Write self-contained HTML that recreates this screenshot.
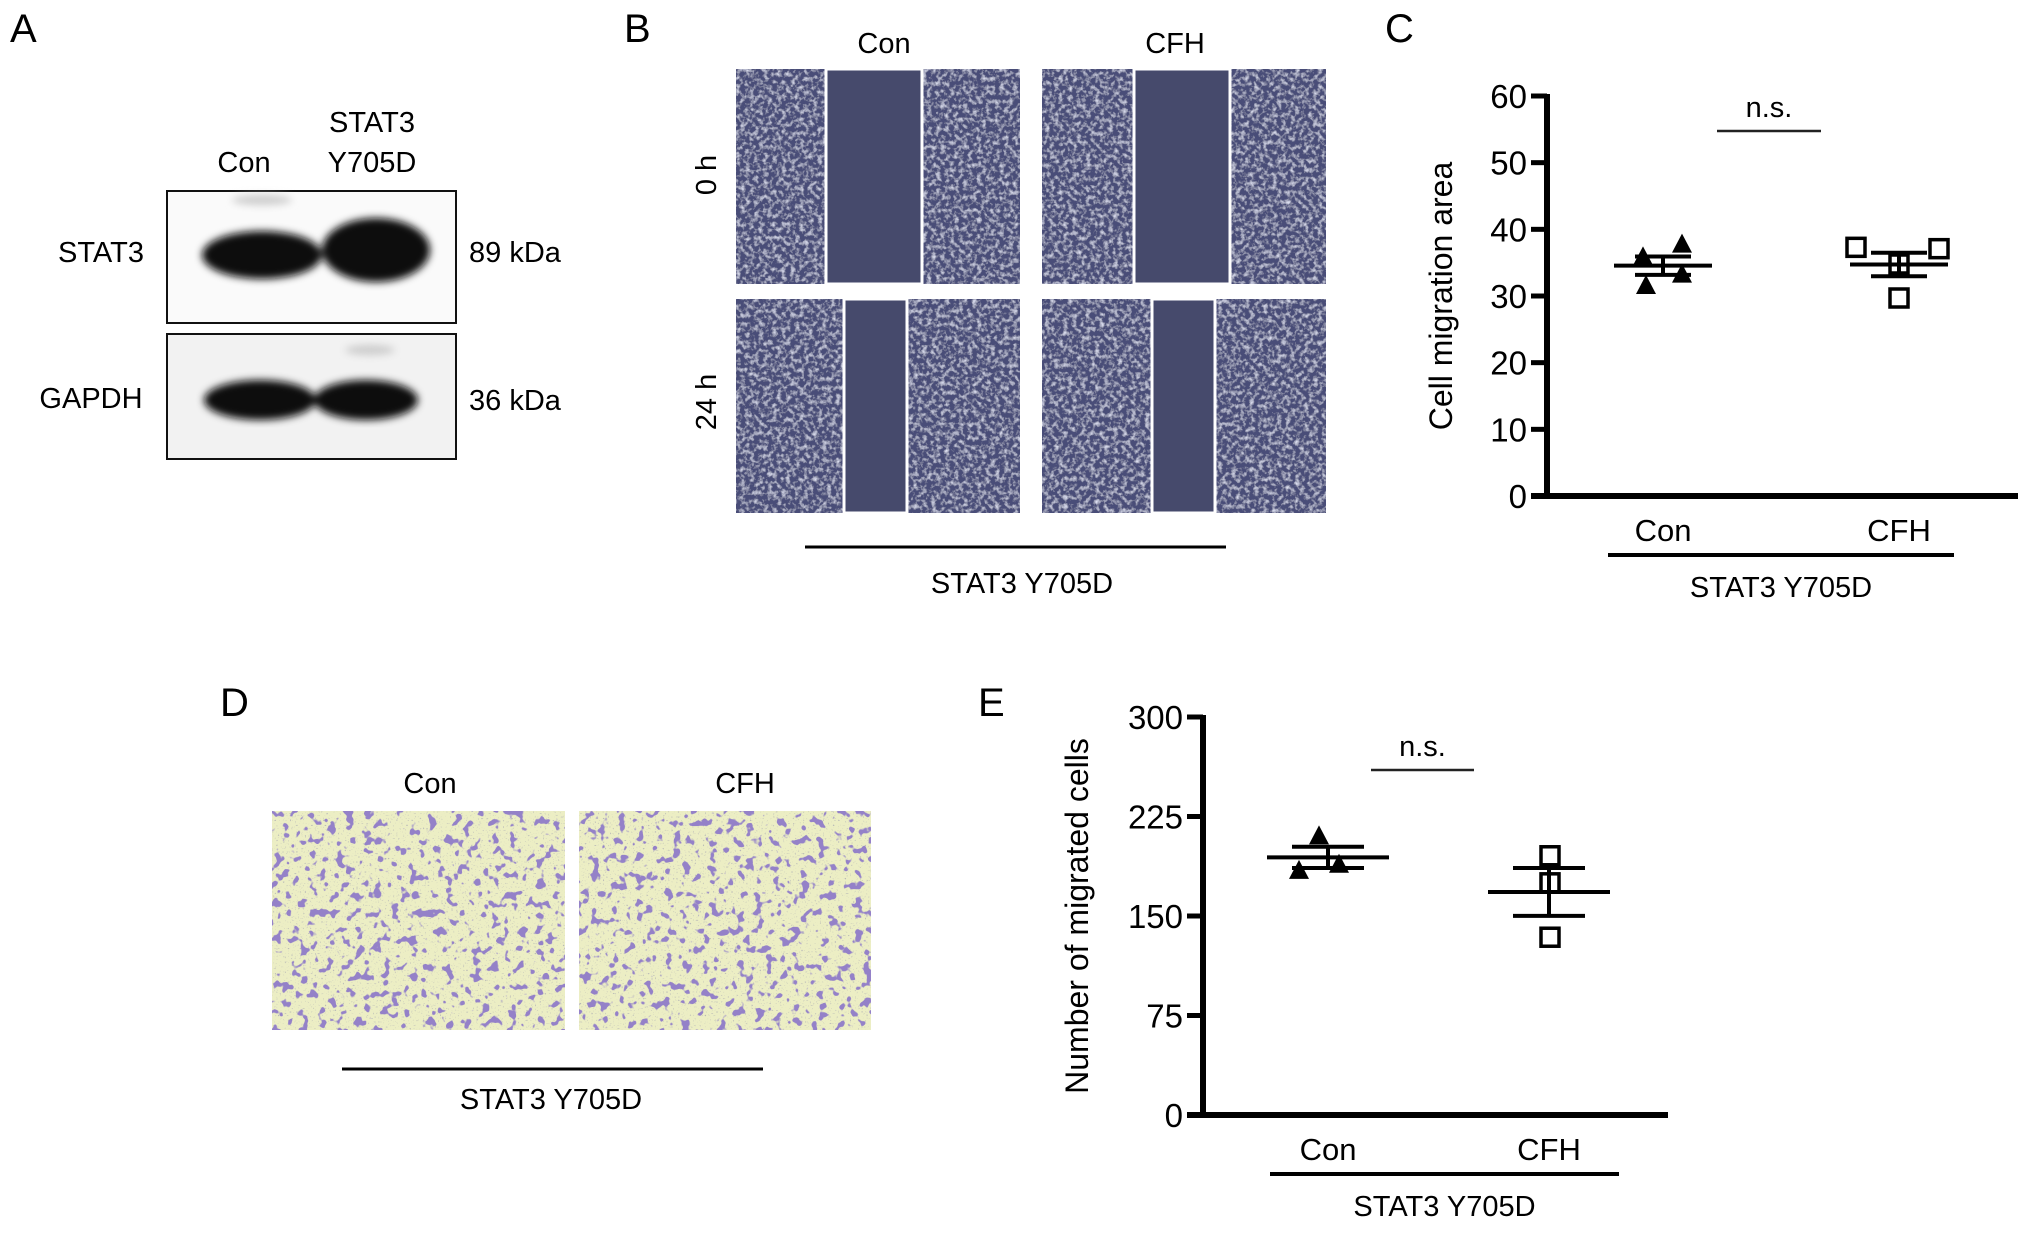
<!DOCTYPE html>
<html><head><meta charset="utf-8"><style>
html,body{margin:0;padding:0;background:#fff;}
svg{display:block;font-family:"Liberation Sans",Arial,sans-serif;}
</style></head><body>
<svg id="fig" width="2032" height="1241" viewBox="0 0 2032 1241">
<defs>
<filter id="speck" x="0" y="0" width="100%" height="100%">
  <feTurbulence type="fractalNoise" baseFrequency="0.22" numOctaves="3" seed="3" result="n"/>
  <feColorMatrix in="n" type="matrix" values="0 0 0 0 0.72  0 0 0 0 0.74  0 0 0 0 0.88  0 0 0 2.2 -1.0" result="s"/>
  <feComposite in="s" in2="SourceGraphic" operator="atop"/>
</filter>
<filter id="cells" x="0" y="0" width="100%" height="100%">
  <feTurbulence type="fractalNoise" baseFrequency="0.11" numOctaves="2" seed="7" result="n"/>
  <feColorMatrix in="n" type="matrix" values="0 0 0 0 0.3  0 0 0 0 0.22  0 0 0 0 0.58  0 0 0 16 -9.4" result="s"/>
  <feTurbulence type="fractalNoise" baseFrequency="0.6" numOctaves="1" seed="2" result="n2"/>
  <feColorMatrix in="n2" type="matrix" values="0 0 0 0 0.4  0 0 0 0 0.4  0 0 0 0 0.45  0 0 0 5 -3.1" result="s2"/>
  <feMerge><feMergeNode in="SourceGraphic"/><feMergeNode in="s2"/><feMergeNode in="s"/></feMerge>
</filter>
<filter id="blur4"><feGaussianBlur stdDeviation="4"/></filter>
</defs>

<!-- Panel A -->
<g>
<text x="10" y="42" font-size="40">A</text>
<text x="244" y="172" font-size="29" text-anchor="middle">Con</text>
<text x="372" y="132" font-size="29" text-anchor="middle">STAT3</text>
<text x="372" y="172" font-size="29" text-anchor="middle">Y705D</text>
<rect x="167" y="191" width="289" height="132" fill="#fafafa" stroke="#111" stroke-width="2"/>
<g filter="url(#blur4)">
<ellipse cx="262" cy="255" rx="60" ry="24" fill="#0a0a0a"/>
<ellipse cx="376" cy="250" rx="54" ry="32" fill="#0a0a0a"/>
<ellipse cx="262" cy="200" rx="30" ry="5" fill="#ccc"/>
</g>
<rect x="167" y="334" width="289" height="125" fill="#f2f2f2" stroke="#111" stroke-width="2"/>
<g filter="url(#blur4)">
<ellipse cx="260" cy="400" rx="56" ry="20" fill="#111"/>
<ellipse cx="366" cy="400" rx="52" ry="20" fill="#111"/>
<ellipse cx="370" cy="350" rx="25" ry="5" fill="#ccc"/>
</g>
<text x="101" y="262" font-size="29" text-anchor="middle">STAT3</text>
<text x="91" y="408" font-size="29" text-anchor="middle">GAPDH</text>
<text x="469" y="262" font-size="29">89 kDa</text>
<text x="469" y="410" font-size="29">36 kDa</text>
</g>

<!-- Panel B -->
<g>
<text x="624" y="42" font-size="40">B</text>
<text x="884" y="53" font-size="29" text-anchor="middle">Con</text>
<text x="1175" y="53" font-size="29" text-anchor="middle">CFH</text>
<text transform="translate(716,175) rotate(-90)" font-size="29" text-anchor="middle">0 h</text>
<text transform="translate(716,402) rotate(-90)" font-size="29" text-anchor="middle">24 h</text>
<g>
<rect x="736" y="69" width="284" height="215" fill="#4a4e78" filter="url(#speck)"/>
<rect x="1042" y="69" width="284" height="215" fill="#4a4e78" filter="url(#speck)"/>
<rect x="736" y="299" width="284" height="214" fill="#4a4e78" filter="url(#speck)"/>
<rect x="1042" y="299" width="284" height="214" fill="#4a4e78" filter="url(#speck)"/>
<rect x="826" y="69" width="96" height="215" fill="#464a6c" stroke="#fff" stroke-width="3"/>
<rect x="1134" y="69" width="96" height="215" fill="#464a6c" stroke="#fff" stroke-width="3"/>
<rect x="844" y="299" width="63" height="214" fill="#464a6c" stroke="#fff" stroke-width="3"/>
<rect x="1152" y="299" width="63" height="214" fill="#464a6c" stroke="#fff" stroke-width="3"/>
</g>
<line x1="805" y1="547" x2="1226" y2="547" stroke="#000" stroke-width="3"/>
<text x="1022" y="593" font-size="29" text-anchor="middle">STAT3 Y705D</text>
</g>

<!-- Panel D -->
<g>
<text x="220" y="716" font-size="40">D</text>
<text x="430" y="793" font-size="29" text-anchor="middle">Con</text>
<text x="745" y="793" font-size="29" text-anchor="middle">CFH</text>
<rect x="272" y="811" width="293" height="219" fill="#eceec4" filter="url(#cells)"/>
<rect x="579" y="811" width="292" height="219" fill="#eceec4" filter="url(#cells)"/>
<line x1="342" y1="1069" x2="763" y2="1069" stroke="#000" stroke-width="3"/>
<text x="551" y="1109" font-size="29" text-anchor="middle">STAT3 Y705D</text>
</g>

<text x="1385" y="42" font-size="40">C</text>
<text x="978" y="716" font-size="40">E</text>
<g id="chartC"></g>
<g id="chartE"></g>
</svg>
<script>
const NS='http://www.w3.org/2000/svg';
const cCategories=['Con','CFH'];
const cConValues=[35.8,37.7,31.5,33.2];
const cCfhValues=[37.3,37.1,34.8,29.7];
const cTicks=[0,10,20,30,40,50,60];
const eCategories=['Con','CFH'];
const eConValues=[210,184,188.6];
const eCfhValues=[195.4,175,134];
const eTicks=[0,75,150,225,300];

function mk(parent,tag,attrs,text){const e=document.createElementNS(NS,tag);for(const k in attrs)e.setAttribute(k,attrs[k]);if(text!==undefined)e.textContent=text;parent.appendChild(e);return e;}
function mean(a){return a.reduce((s,v)=>s+v,0)/a.length;}
function sem(a){const m=mean(a);const sd=Math.sqrt(a.reduce((s,v)=>s+(v-m)*(v-m),0)/(a.length-1));return sd/Math.sqrt(a.length);}

function drawChart(g,cfg){
  const y=v=>cfg.y0-(v-cfg.min)/(cfg.max-cfg.min)*(cfg.y0-cfg.yTop);
  const x=i=>cfg.xc[i];
  const ya=mk(g,'line',{x1:cfg.ax,y1:cfg.yTop-2,x2:cfg.ax,y2:cfg.y0+3,stroke:'#000','stroke-width':6});
  
  
  const xa=mk(g,'line',{x1:cfg.ax-16,y1:cfg.y0,x2:cfg.xEnd,y2:cfg.y0,stroke:'#000','stroke-width':6});
  
  
  cfg.ticks.forEach(t=>{
    const tl=mk(g,'line',{x1:cfg.ax-16,y1:y(t),x2:cfg.ax,y2:y(t),stroke:'#000','stroke-width':5});
    
    
    const tt=mk(g,'text',{x:cfg.ax-20,y:y(t)+12,'font-size':33,'text-anchor':'end'},String(t));
    
    
  });
  const yt=mk(g,'text',{transform:`translate(${cfg.titleX},${(cfg.yTop+cfg.y0)/2}) rotate(-90)`,'font-size':32,'text-anchor':'middle'},cfg.title);
  
  
  cfg.cats.forEach((c,i)=>{
    const ct=mk(g,'text',{x:x(i),y:cfg.y0+45,'font-size':31,'text-anchor':'middle'},c);
    
    
  });
  const br=mk(g,'line',{x1:cfg.brk[0],y1:cfg.y0+59,x2:cfg.brk[1],y2:cfg.y0+59,stroke:'#000','stroke-width':4});
  
  
  const gl=mk(g,'text',{x:(cfg.brk[0]+cfg.brk[1])/2,y:cfg.y0+101,'font-size':29,'text-anchor':'middle'},'STAT3 Y705D');
  
  
  cfg.series.forEach((vals,i)=>{
    const m=mean(vals),s=sem(vals);
    vals.forEach((v,j)=>{
      const px=x(i)+cfg.offs[i][j];
      let p;
      if(i===0){p=mk(g,'path',{d:`M${px},${y(v)-11} L${px+10},${y(v)+8} L${px-10},${y(v)+8} Z`,fill:'#000'});}
      else{p=mk(g,'rect',{x:px-9,y:y(v)-9,width:18,height:18,fill:'none',stroke:'#000','stroke-width':3.5});}
      
    });
    const ml=mk(g,'line',{x1:x(i)-cfg.mw,y1:y(m),x2:x(i)+cfg.mw,y2:y(m),stroke:'#000','stroke-width':4});
    
    
    [m+s,m-s].forEach(v=>{
      const el=mk(g,'line',{x1:x(i)-cfg.sw,y1:y(v),x2:x(i)+cfg.sw,y2:y(v),stroke:'#000','stroke-width':4});
      
      
    });
    const vl=mk(g,'line',{x1:x(i),y1:y(m+s),x2:x(i),y2:y(m-s),stroke:'#000','stroke-width':4});
    
    
  });
  const nl=mk(g,'line',{x1:cfg.ns[0],y1:cfg.ns[2],x2:cfg.ns[1],y2:cfg.ns[2],stroke:'#222','stroke-width':2.5});
  
  
  const nt=mk(g,'text',{x:(cfg.ns[0]+cfg.ns[1])/2,y:cfg.ns[2]-14,'font-size':29,'text-anchor':'middle'},'n.s.');
  
  
}
drawChart(document.getElementById('chartC'),{ax:1547,yTop:96,y0:496,min:0,max:60,xEnd:2018,ticks:cTicks,cats:cCategories,
  xc:[1663,1899],series:[cConValues,cCfhValues],offs:[[-20,19,-17,19],[-43,40,0,0]],mw:49,sw:28,
  title:'Cell migration area',titleX:1452,brk:[1608,1954],ns:[1717,1821,131]});
drawChart(document.getElementById('chartE'),{ax:1203,yTop:717,y0:1115,min:0,max:300,xEnd:1668,ticks:eTicks,cats:eCategories,
  xc:[1328,1549],series:[eConValues,eCfhValues],offs:[[-9,-29,11],[1,1,1]],mw:61,sw:36,
  title:'Number of migrated cells',titleX:1088,brk:[1270,1619],ns:[1371,1474,770]});
</script>
</body></html>
